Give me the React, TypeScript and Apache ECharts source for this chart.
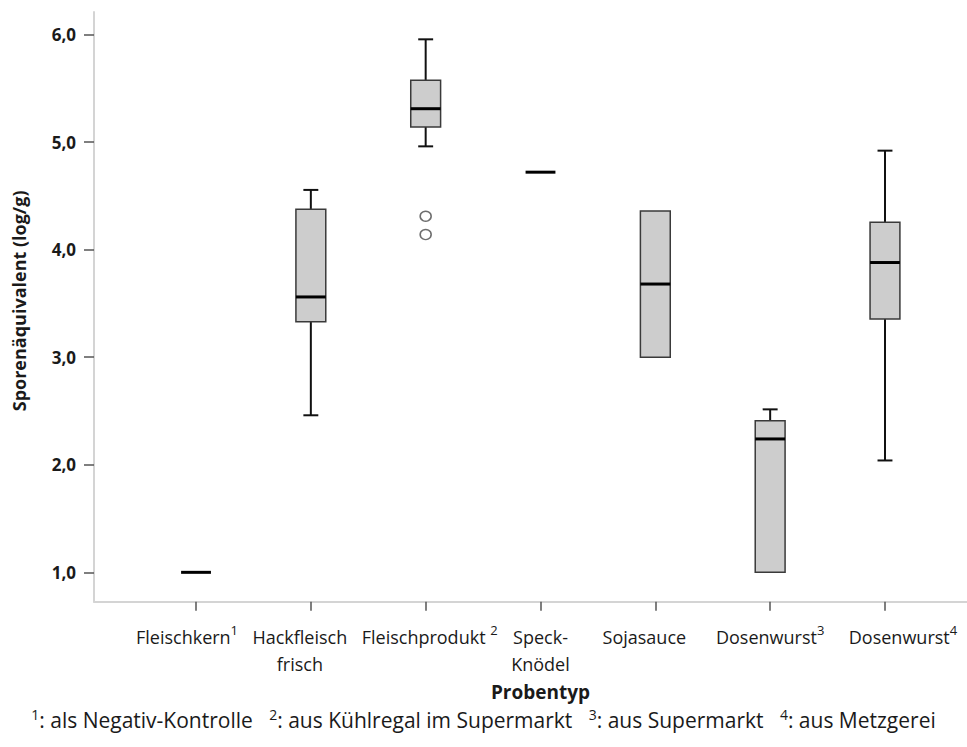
import React, { useEffect, useRef } from 'react';
import * as echarts from 'echarts';

// ---- data ----
const categories = [
  'Fleischkern¹',
  'Hackfleisch\nfrisch',
  'Fleischprodukt ²',
  'Speck-\nKnödel',
  'Sojasauce',
  'Dosenwurst³',
  'Dosenwurst⁴',
];
const whiskerMin = [1.0, 2.46, 4.96, 4.72, 3.0, 1.0, 2.04];
const quartile1 = [1.0, 3.33, 5.14, 4.72, 3.0, 1.0, 3.355];
const medians = [1.0, 3.56, 5.31, 4.72, 3.68, 2.24, 3.88];
const quartile3 = [1.0, 4.375, 5.575, 4.72, 4.36, 2.41, 4.255];
const whiskerMax = [1.0, 4.555, 5.955, 4.72, 4.36, 2.515, 4.92];
const outlierCategory = [2, 2];
const outlierValues = [4.31, 4.14];
const yTickValues = [1, 2, 3, 4, 5, 6];
const yAxisTitle = 'Sporenäquivalent (log/g)';
const xAxisTitle = 'Probentyp';
const caption = '¹: als Negativ-Kontrolle   ²: aus Kühlregal im Supermarkt   ³: aus Supermarkt   ⁴: aus Metzgerei';

// label horizontal nudges (style only)
const labelShift = [-9, -11, 4, 0, -11, 0, 18];

const FONT = '"Open Sans", "Noto Sans", sans-serif';
const TEXT = '#1a1a1a';
const Y_MIN = 0.727;
const Y_MAX = 6.209;

const SUP_MAP: Record<string, string> = { '¹': '1', '²': '2', '³': '3', '⁴': '4' };

// split a string into runs of normal / superscript text
function runs(str: string): { text: string; sup: boolean }[] {
  const out: { text: string; sup: boolean }[] = [];
  for (const ch of str) {
    const sup = ch in SUP_MAP;
    const t = sup ? SUP_MAP[ch] : ch;
    const last = out[out.length - 1];
    if (last && last.sup === sup) last.text += t;
    else out.push({ text: t, sup });
  }
  return out;
}

export default function App() {
  const ref = useRef<HTMLDivElement>(null);
  useEffect(() => {
    if (!ref.current) return;
    const chart = echarts.init(ref.current, null, { renderer: 'svg' });

    // rich styles for axis labels
    const rich: Record<string, any> = {};
    labelShift.forEach((s, i) => {
      ['t', 's'].forEach((kind) => {
        ['F', 'L', 'N'].forEach((pos) => {
          let padding = [0, 0, 0, 0];
          if (pos === 'F' && s > 0) padding = [0, 0, 0, 2 * s];
          if (pos === 'L' && s < 0) padding = [0, -2 * s, 0, 0];
          rich[kind + i + pos] =
            kind === 't'
              ? { fontFamily: FONT, fontSize: 18, color: TEXT, lineHeight: 27, padding }
              : { fontFamily: FONT, fontSize: 13, color: TEXT, verticalAlign: 'top', lineHeight: 22, padding };
        });
      });
    });

    const labelFormatter = (v: string, i: number) =>
      v
        .split('\n')
        .map((line) => {
          const r = runs(line);
          const s = labelShift[i];
          return r
            .map((run, k) => {
              let pos = 'N';
              if (k === 0 && s > 0) pos = 'F';
              if (k === r.length - 1 && s < 0) pos = 'L';
              return '{' + (run.sup ? 's' : 't') + i + pos + '|' + run.text + '}';
            })
            .join('');
        })
        .join('\n');

    const captionRich = runs(caption)
      .map((run) => '{' + (run.sup ? 'cs' : 'cn') + '|' + run.text + '}')
      .join('');

    const boxData = categories.map((_, i) => [
      i,
      whiskerMin[i],
      quartile1[i],
      medians[i],
      quartile3[i],
      whiskerMax[i],
    ]);

    chart.setOption({
      animation: false,
      backgroundColor: '#ffffff',
      grid: [
        { left: 94, right: 0, top: 12, bottom: 145.3 },
        { left: 138.6, right: 24.6, top: 12, bottom: 145.3 },
      ],
      xAxis: [
        {
          type: 'value',
          gridIndex: 0,
          min: 0,
          max: 1,
          splitLine: { show: false },
          axisLine: { show: true, onZero: false, lineStyle: { color: '#d4d4d4', width: 2 } },
          axisTick: { show: false },
          axisLabel: { show: false },
        },
        {
          type: 'category',
          gridIndex: 1,
          data: categories,
          boundaryGap: true,
          splitLine: { show: false },
          axisLine: { show: false },
          axisTick: { show: true, alignWithLabel: true, length: 9, lineStyle: { color: '#555', width: 1.5 } },
          axisLabel: {
            interval: 0,
            margin: 22,
            fontFamily: FONT,
            fontSize: 18,
            color: TEXT,
            lineHeight: 27,
            formatter: labelFormatter,
            rich,
          },
          name: xAxisTitle,
          nameLocation: 'middle',
          nameGap: 76,
          nameTextStyle: {
            fontFamily: FONT,
            fontSize: 19,
            fontWeight: 'bold',
            color: TEXT,
          },
        },
      ],
      yAxis: [
        {
          type: 'value',
          gridIndex: 0,
          min: Y_MIN,
          max: Y_MAX,
          splitLine: { show: false },
          axisLine: { show: true, onZero: false, lineStyle: { color: '#d4d4d4', width: 2 } },
          axisTick: { show: true, customValues: yTickValues, length: 10, lineStyle: { color: '#555', width: 1.5 } },
          axisLabel: {
            customValues: yTickValues,
            margin: 18,
            fontFamily: FONT,
            fontSize: 17,
            fontWeight: 'bold',
            color: TEXT,
            formatter: (v: number) => v.toFixed(1).replace('.', ','),
          },
          name: yAxisTitle,
          nameLocation: 'middle',
          nameGap: 66,
          nameTextStyle: {
            fontFamily: FONT,
            fontSize: 18,
            fontWeight: 'bold',
            color: TEXT,
            padding: [0, 0, 0, 12],
          },
        },
        {
          type: 'value',
          gridIndex: 1,
          min: Y_MIN,
          max: Y_MAX,
          show: false,
          splitLine: { show: false },
        },
      ],
      series: [
        {
          type: 'custom',
          xAxisIndex: 1,
          yAxisIndex: 1,
          clip: false,
          data: boxData,
          encode: { x: 0, y: [1, 2, 3, 4, 5] },
          renderItem: (params: any, api: any) => {
            const i = api.value(0);
            const mn = api.value(1);
            const q1 = api.value(2);
            const md = api.value(3);
            const q3 = api.value(4);
            const mx = api.value(5);
            const cx = api.coord([i, md])[0];
            const bw = api.size([1, 0])[0] * 0.26;
            const y = (v: number) => api.coord([i, v])[1];
            const whisk = { stroke: '#111', lineWidth: 2 };
            const children: any[] = [];
            if (mx > q3) {
              children.push({ type: 'line', shape: { x1: cx, y1: y(q3), x2: cx, y2: y(mx) }, style: whisk });
              children.push({ type: 'line', shape: { x1: cx - bw / 4, y1: y(mx), x2: cx + bw / 4, y2: y(mx) }, style: whisk });
            }
            if (mn < q1) {
              children.push({ type: 'line', shape: { x1: cx, y1: y(q1), x2: cx, y2: y(mn) }, style: whisk });
              children.push({ type: 'line', shape: { x1: cx - bw / 4, y1: y(mn), x2: cx + bw / 4, y2: y(mn) }, style: whisk });
            }
            if (q3 > q1) {
              children.push({
                type: 'rect',
                shape: { x: cx - bw / 2, y: y(q3), width: bw, height: y(q1) - y(q3) },
                style: { fill: '#cdcdcd', stroke: '#3a3a3a', lineWidth: 1.5 },
              });
            }
            children.push({
              type: 'line',
              shape: { x1: cx - bw / 2, y1: y(md), x2: cx + bw / 2, y2: y(md) },
              style: { stroke: '#000', lineWidth: 3 },
            });
            return { type: 'group', children };
          },
        },
        {
          type: 'scatter',
          xAxisIndex: 1,
          yAxisIndex: 1,
          data: outlierCategory.map((c, k) => [c, outlierValues[k]]),
          symbol: 'circle',
          symbolSize: [11, 10],
          itemStyle: { color: '#ffffff', borderColor: '#4a4a4a', borderWidth: 1.5 },
        },
      ],
      graphic: [
        {
          type: 'text',
          left: 'center',
          top: 707,
          style: {
            text: captionRich,
            rich: {
              cn: { fontFamily: FONT, fontSize: 21, fill: TEXT, color: TEXT, lineHeight: 26 },
              cs: { fontFamily: FONT, fontSize: 14, fill: TEXT, color: TEXT, verticalAlign: 'top', lineHeight: 20 },
            },
          },
        },
      ],
    });
    return () => chart.dispose();
  }, []);
  return (
    <div
      ref={ref}
      style={{ position: 'absolute', left: 0, top: 0, width: 967, height: 747 }}
    />
  );
}
